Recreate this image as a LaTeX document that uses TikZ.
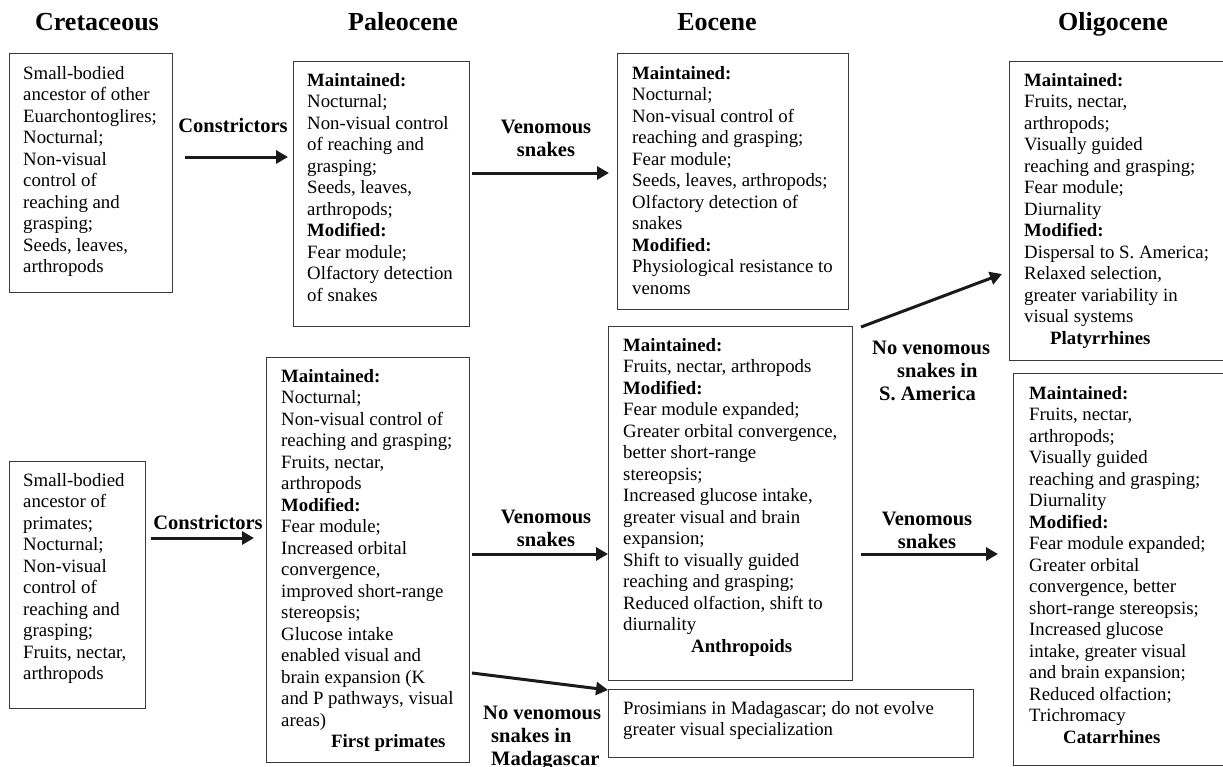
\documentclass[tikz,border=0pt]{standalone}
\usepackage{fontspec}
\setmainfont{Liberation Serif}
\usetikzlibrary{arrows.meta}
\definecolor{boxgray}{HTML}{3A3A3A}
\definecolor{arrblack}{HTML}{1A1A1A}
\newcommand{\tl}[1]{\begin{tabular}[t]{@{}l@{}}#1\end{tabular}}
\newcommand{\tc}[1]{\begin{tabular}[t]{@{}c@{}}#1\end{tabular}}
\begin{document}
\begin{tikzpicture}[x=1pt,y=-1pt,
  box/.style={draw=boxgray, line width=1.3pt, inner sep=0pt, anchor=north west},
  txt/.style={anchor=base west, inner sep=0pt, font=\fontsize{18.8}{21.5}\selectfont},
  lab/.style={anchor=base, inner sep=0pt, font=\bfseries\fontsize{20.5}{23}\selectfont},
  labl/.style={anchor=base west, inner sep=0pt, font=\bfseries\fontsize{20.5}{23}\selectfont},
  hdr/.style={anchor=base, inner sep=0pt, font=\bfseries\fontsize{26}{30}\selectfont},
  arr/.style={draw=arrblack, line width=3pt, -{Triangle[length=12pt,width=13pt]}}]
\useasboundingbox (0,0) rectangle (1223,766);
\fill[white] (0,0) rectangle (1223,766);

% headers
\node[hdr] (h1) at (97,30) {Cretaceous};
\node[hdr] (h2) at (403,30) {Paleocene};
\node[hdr] (h3) at (717,30) {Eocene};
\node[hdr] (h4) at (1113,30) {Oligocene};

% boxes
\node[box, minimum width=163pt, minimum height=239pt] (b1) at (9,53) {};
\node[box, minimum width=176pt, minimum height=265pt] (b2) at (293,61) {};
\node[box, minimum width=231pt, minimum height=256pt] (b3) at (617,53) {};
\node[box, minimum width=230pt, minimum height=299pt] (b4) at (1009,61) {};
\node[box, minimum width=136pt, minimum height=247pt] (b5) at (9,461) {};
\node[box, minimum width=203pt, minimum height=405pt] (b6) at (266,357) {};
\node[box, minimum width=244pt, minimum height=354pt] (b7) at (608,326) {};
\node[box, minimum width=365pt, minimum height=68pt] (b8) at (608,689) {};
\node[box, minimum width=230pt, minimum height=392pt] (b9) at (1013,373) {};

% box texts
\node[txt] (t1) at (23,79) {\tl{Small-bodied\\ancestor of other\\Euarchontoglires;\\Nocturnal;\\Non-visual\\control of\\reaching and\\grasping;\\Seeds, leaves,\\arthropods}};
\node[txt] (t2) at (307,86) {\tl{\textbf{Maintained:}\\Nocturnal;\\Non-visual control\\of reaching and\\grasping;\\Seeds, leaves,\\arthropods;\\\textbf{Modified:}\\Fear module;\\Olfactory detection\\of snakes}};
\node[txt] (t3) at (632,79) {\tl{\textbf{Maintained:}\\Nocturnal;\\Non-visual control of\\reaching and grasping;\\Fear module;\\Seeds, leaves, arthropods;\\Olfactory detection of\\snakes\\\textbf{Modified:}\\Physiological resistance to\\venoms}};
\node[txt] (t4) at (1024,86) {\tl{\textbf{Maintained:}\\Fruits, nectar,\\arthropods;\\Visually guided\\reaching and grasping;\\Fear module;\\Diurnality\\\textbf{Modified:}\\Dispersal to S. America;\\Relaxed selection,\\greater variability in\\visual systems\\\hspace*{26pt}\textbf{Platyrrhines}}};
\node[txt] (t5) at (23,486) {\tl{Small-bodied\\ancestor of\\primates;\\Nocturnal;\\Non-visual\\control of\\reaching and\\grasping;\\Fruits, nectar,\\arthropods}};
\node[txt] (t6) at (281,382) {\tl{\textbf{Maintained:}\\Nocturnal;\\Non-visual control of\\reaching and grasping;\\Fruits, nectar,\\arthropods\\\textbf{Modified:}\\Fear module;\\Increased orbital\\convergence,\\improved short-range\\stereopsis;\\Glucose intake\\enabled visual and\\brain expansion (K\\and P pathways, visual\\areas)\\\hspace*{50pt}\textbf{First primates}}};
\node[txt] (t7) at (623,351) {\tl{\textbf{Maintained:}\\Fruits, nectar, arthropods\\\textbf{Modified:}\\Fear module expanded;\\Greater orbital convergence,\\better short-range\\stereopsis;\\Increased glucose intake,\\greater visual and brain\\expansion;\\Shift to visually guided\\reaching and grasping;\\Reduced olfaction, shift to\\diurnality\\\hspace*{68pt}\textbf{Anthropoids}}};
\node[txt] (t8) at (623,714) {\tl{Prosimians in Madagascar; do not evolve\\greater visual specialization}};
\node[txt] (t9) at (1029,399) {\tl{\textbf{Maintained:}\\Fruits, nectar,\\arthropods;\\Visually guided\\reaching and grasping;\\Diurnality\\\textbf{Modified:}\\Fear module expanded;\\Greater orbital\\convergence, better\\short-range stereopsis;\\Increased glucose\\intake, greater visual\\and brain expansion;\\Reduced olfaction;\\Trichromacy\\\hspace*{34pt}\textbf{Catarrhines}}};

% arrow end points
\coordinate (a1s) at (185,157); \coordinate (a1e) at (288,157);
\coordinate (a2s) at (472,173); \coordinate (a2e) at (609,173);
\coordinate (a3s) at (151,538); \coordinate (a3e) at (254,538);
\coordinate (a4s) at (472,554); \coordinate (a4e) at (608,554);
\coordinate (a5s) at (472,673); \coordinate (a5e) at (608,690);
\coordinate (a6s) at (861,327); \coordinate (a6e) at (1002,274);
\coordinate (a7s) at (861,554); \coordinate (a7e) at (998,554);

\draw[arr] (a1s) -- (a1e);
\draw[arr] (a2s) -- (a2e);
\draw[arr] (a3s) -- (a3e);
\draw[arr] (a4s) -- (a4e);
\draw[arr] (a5s) -- (a5e);
\draw[arr] (a6s) -- (a6e);
\draw[arr] (a7s) -- (a7e);

% arrow labels
\node[lab] (l1) at (233,132) {Constrictors};
\node[lab] (l2) at (546,133) {\tc{Venomous\\snakes}};
\node[lab] (l3) at (208,529) {Constrictors};
\node[lab] (l4) at (546,523) {\tc{Venomous\\snakes}};
\node[labl] (l5) at (483,719) {\tl{No venomous\\\hspace*{8pt}snakes in\\\hspace*{8pt}Madagascar}};
\node[labl] (l6) at (872,354) {\tl{No venomous\\\hspace*{25pt}snakes in\\\hspace*{7pt}S. America}};
\node[lab] (l7) at (927,525) {\tc{Venomous\\snakes}};
\end{tikzpicture}
\end{document}
